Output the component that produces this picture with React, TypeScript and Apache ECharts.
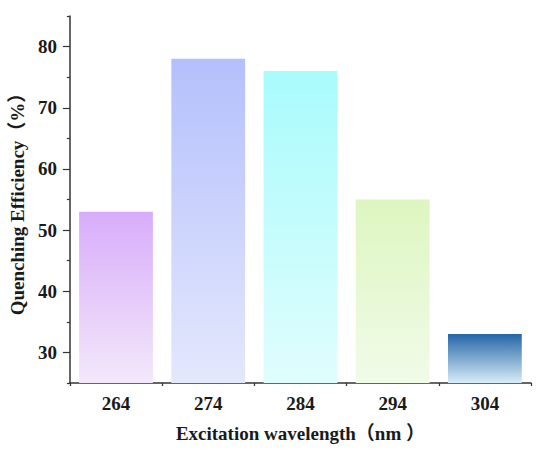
import React, { useEffect, useRef } from "react";
import * as echarts from "echarts";

const categories = ["264", "274", "284", "294", "304"];
const values = [53, 78, 76, 55, 33];
const topColors = ["#d8acfa", "#b4c0fc", "#a9fbfc", "#ddf6c0", "#2566a6"];
const bottomColors = ["#f3e8fb", "#e4e8fc", "#e0fdfd", "#f1fbe8", "#d8edf9"];
const yLabelValues = [30, 40, 50, 60, 70, 80];
const yMinorValues = [25, 35, 45, 55, 65, 75, 85];

const FONT = "'Times New Roman', 'Liberation Serif', 'Noto Sans CJK SC', serif";
const FS = 19;

export default function App() {
  const ref = useRef<HTMLDivElement>(null);
  useEffect(() => {
    const chart = echarts.init(ref.current!, null, { renderer: "svg" });
    const axisColor = "#333";
    const textStyle = { fontSize: FS, fontWeight: "bold", fontFamily: FONT, color: "#1a1a1a" };
    chart.setOption({
      animation: false,
      grid: { left: 69, right: 19, top: 16, bottom: 71 },
      xAxis: [
        {
          type: "category",
          data: categories,
          position: "bottom",
          axisLine: { onZero: false, lineStyle: { color: axisColor, width: 1.5 } },
          axisTick: { alignWithLabel: true, length: 5, lineStyle: { color: axisColor, width: 1.2 } },
          axisLabel: { margin: 11, ...textStyle },
          name: "Excitation wavelength（nm ）",
          nameLocation: "middle",
          nameGap: 41,
          nameTextStyle: textStyle,
        },
        {
          type: "category",
          data: categories,
          position: "bottom",
          axisLine: { show: false, onZero: false },
          axisTick: { show: true, length: 3, lineStyle: { color: axisColor, width: 1.2 } },
          axisLabel: { show: false },
        },
      ],
      yAxis: [
        {
          type: "value",
          min: 25,
          max: 85,
          position: "left",
          splitLine: { show: false },
          axisLine: { show: true, lineStyle: { color: axisColor, width: 1.5 } },
          axisTick: { show: true, length: 7, customValues: yLabelValues, lineStyle: { color: axisColor, width: 1.2 } },
          axisLabel: { customValues: yLabelValues, margin: 13, ...textStyle },
          name: "Quenching Efficiency（%）",
          nameLocation: "middle",
          nameGap: 35,
          nameTextStyle: textStyle,
        },
        {
          type: "value",
          min: 25,
          max: 85,
          position: "left",
          splitLine: { show: false },
          axisLine: { show: false },
          axisTick: { show: true, length: 3, customValues: yMinorValues, lineStyle: { color: axisColor, width: 1.2 } },
          axisLabel: { show: false, customValues: yMinorValues },
        },
      ],
      series: [
        {
          type: "bar",
          xAxisIndex: 0,
          yAxisIndex: 0,
          barCategoryGap: "20%",
          data: values.map((v, i) => ({
            value: v,
            itemStyle: {
              color: new echarts.graphic.LinearGradient(0, 0, 0, 1, [
                { offset: 0, color: topColors[i] },
                { offset: 1, color: bottomColors[i] },
              ]),
            },
          })),
        },
      ],
    });
    return () => chart.dispose();
  }, []);
  return (
    <div
      ref={ref}
      style={{ position: "fixed", left: 0, top: 0, width: 550, height: 454, background: "#fff" }}
    />
  );
}
